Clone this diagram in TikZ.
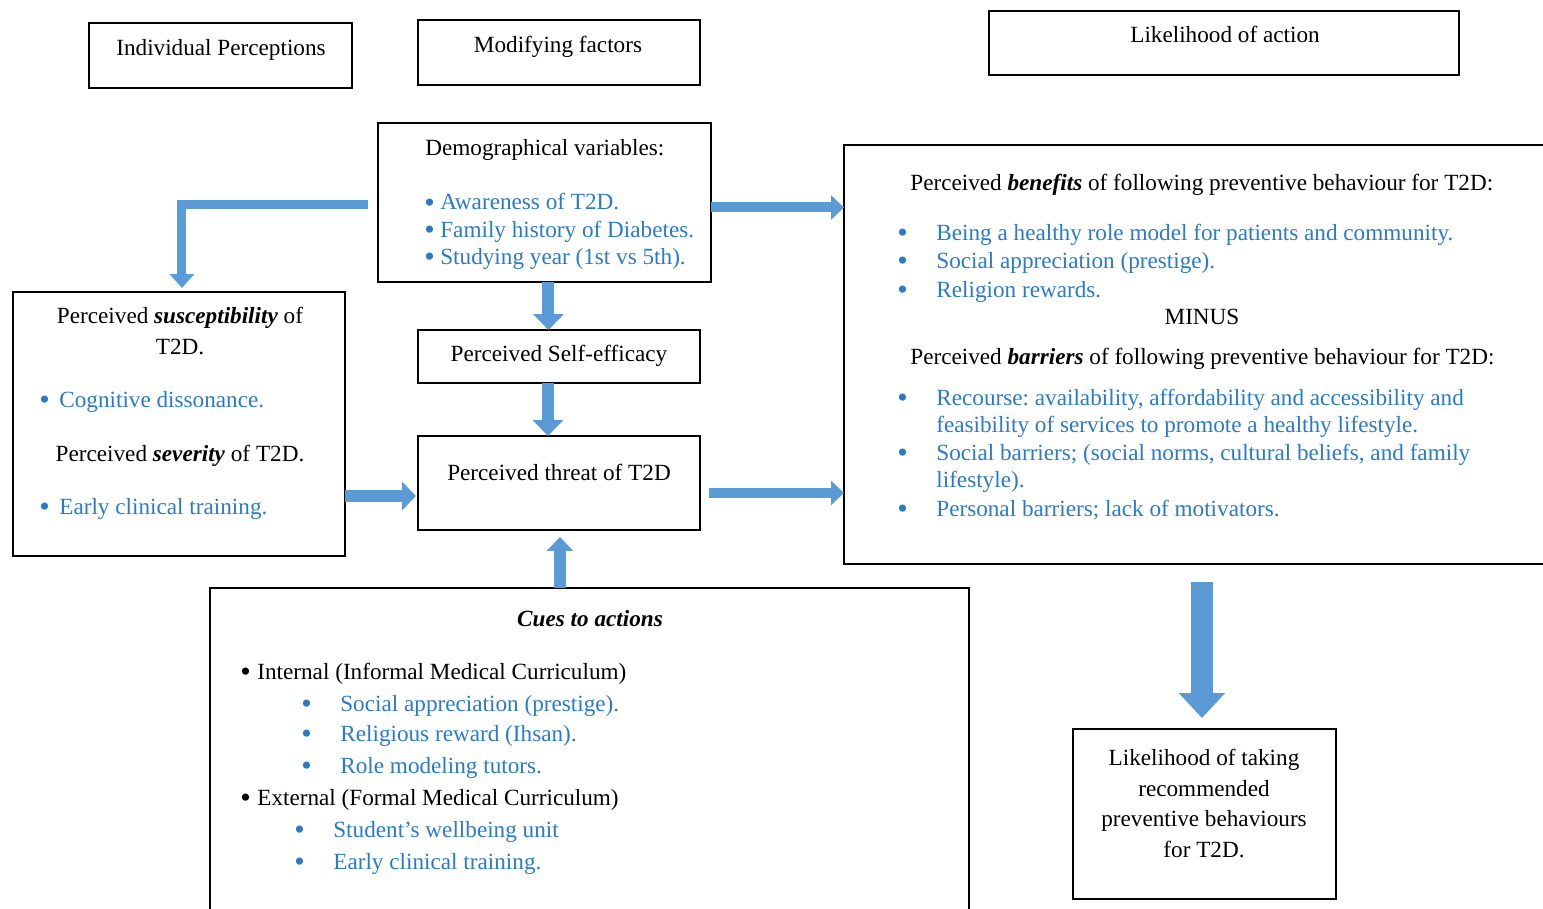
\documentclass[tikz,border=0pt]{standalone}
\usepackage{fontspec}
\setmainfont{Liberation Serif}
\usetikzlibrary{arrows.meta}
\frenchspacing
\definecolor{arrowblue}{HTML}{5B9BD5}
\definecolor{blu}{HTML}{2A7AC8}
% bullet item: name, bullet x, text x, baseline y, text
\newcommand\bitem[5]{%
  \node[txt,text=blu] (#1b) at (#2,#4) {\bigdot};
  \node[txt,text=blu] (#1) at (#3,#4) {#5};}
\newcommand\bigdot{\raisebox{-1.7pt}{\fontsize{17}{16}\selectfont •}}
\begin{document}
\begin{tikzpicture}[x=0.02cm,y=-0.02cm,
  box/.style={draw=black,line width=0.8pt,inner sep=0pt,outer sep=0pt,anchor=north west},
  txt/.style={font=\fontsize{13.2}{16}\selectfont,inner sep=0pt,anchor=base west},
  ctxt/.style={txt,anchor=base},
  barrow/.style n args={3}{draw=arrowblue,line width=#1,line join=miter,
    -{Triangle[width=#2,length=#3]}}]
\useasboundingbox (0,0) rectangle (1543,909);
\clip (0,0) rectangle (1543,909);

% boxes
\node[box,minimum width=5.26cm,minimum height=1.30cm] (ind) at (89,23) {};
\node[box,minimum width=5.64cm,minimum height=1.30cm] (mod) at (418,20) {};
\node[box,minimum width=9.40cm,minimum height=1.28cm] (lik) at (989,11) {};
\node[box,minimum width=6.66cm,minimum height=3.18cm] (demog) at (378,123) {};
\node[box,minimum width=14.32cm,minimum height=8.38cm] (ben) at (844,145) {};
\node[box,minimum width=6.64cm,minimum height=5.28cm] (susc) at (13,292) {};
\node[box,minimum width=5.64cm,minimum height=1.06cm] (self) at (418,330) {};
\node[box,minimum width=5.64cm,minimum height=1.88cm] (threat) at (418,436) {};
\node[box,minimum width=15.18cm,minimum height=6.84cm] (cues) at (210,588) {};
\node[box,minimum width=5.26cm,minimum height=3.40cm] (take) at (1073,729) {};

% headings
\node[ctxt] (tInd) at (221,56) {Individual Perceptions};
\node[ctxt] (tMod) at (558,53) {Modifying factors};
\node[ctxt] (tLik) at (1225,43) {Likelihood of action};

% demographical variables
\node[txt] (tDem) at (425,155) {Demographical variables:};
\bitem{d1}{424}{440}{210}{Awareness of T2D.}
\bitem{d2}{424}{440}{237}{Family history of Diabetes.}
\bitem{d3}{424}{440}{264}{Studying year (1st vs 5th).}

% benefits and barriers
\node[txt] (tBen) at (910,191) {Perceived \textbf{\textit{benefits}} of following preventive behaviour for T2D:};
\bitem{b1}{897}{936}{240}{Being a healthy role model for patients and community.}
\bitem{b2}{897}{936}{268}{Social appreciation (prestige).}
\bitem{b3}{897}{936}{297}{Religion rewards.}
\node[ctxt] (tMinus) at (1202,324) {MINUS};
\node[txt] (tBar) at (910,364) {Perceived \textbf{\textit{barriers}} of following preventive behaviour for T2D:};
\bitem{r1}{897}{936}{405}{Recourse: availability, affordability and accessibility and}
\node[txt,text=blu] (r1c) at (936,432) {feasibility of services to promote a healthy lifestyle.};
\bitem{r2}{897}{936}{460}{Social barriers; (social norms, cultural beliefs, and family}
\node[txt,text=blu] (r2c) at (936,487) {lifestyle).};
\bitem{r3}{897}{936}{516}{Personal barriers; lack of motivators.}

% susceptibility and severity
\node[ctxt] (tSus) at (180,323) {Perceived \textbf{\textit{susceptibility}} of};
\node[ctxt] (tSus2) at (180,354) {T2D.};
\bitem{s1}{39}{59}{407}{Cognitive dissonance.}
\node[ctxt] (tSev) at (180,461) {Perceived \textbf{\textit{severity}} of T2D.};
\bitem{s2}{39}{59}{514}{Early clinical training.}

% self-efficacy and threat
\node[ctxt] (tSelf) at (559,361) {Perceived Self-efficacy};
\node[ctxt] (tThr) at (559,480) {Perceived threat of T2D};

% cues to actions
\node[ctxt] (tCues) at (590,626) {\textbf{\textit{Cues to actions}}};
\node[txt] (c0b) at (240,679) {\bigdot};
\node[txt] (c0) at (257,679) {Internal (Informal Medical Curriculum)};
\bitem{c1}{301}{340}{711}{Social appreciation (prestige).}
\bitem{c2}{301}{340}{741}{Religious reward (Ihsan).}
\bitem{c3}{301}{340}{773}{Role modeling tutors.}
\node[txt] (c4b) at (240,805) {\bigdot};
\node[txt] (c4) at (257,805) {External (Formal Medical Curriculum)};
\bitem{c5}{294}{333}{837}{Student’s wellbeing unit}
\bitem{c6}{294}{333}{869}{Early clinical training.}

% likelihood of taking action
\node[ctxt] (k1) at (1204,765) {Likelihood of taking};
\node[ctxt] (k2) at (1204,796) {recommended};
\node[ctxt] (k3) at (1204,826) {preventive behaviours};
\node[ctxt] (k4) at (1204,857) {for T2D.};

% block arrows
\coordinate (eS) at ([shift={(-10,2)}]demog.west);
\coordinate (eT) at ([shift={(3,-4)}]susc.north);
\draw[barrow={0.18cm}{0.48cm}{0.28cm}] (eS) -| (eT);

\coordinate (dbS) at ([shift={(0,5)}]demog.east);
\draw[barrow={0.2cm}{0.48cm}{0.26cm}] (dbS) -- (dbS -| ben.west);

\coordinate (dsS) at ([shift={(4,0)}]demog.south);
\draw[barrow={0.24cm}{0.6cm}{0.32cm}] (dsS) -- (dsS |- self.north);

\coordinate (stS) at ([shift={(-11,0)}]self.south);
\draw[barrow={0.24cm}{0.6cm}{0.32cm}] (stS) -- (stS |- threat.north);

\coordinate (sutT) at ([shift={(-2,13)}]threat.west);
\draw[barrow={0.24cm}{0.56cm}{0.28cm}] (sutT -| susc.east) -- (sutT);

\coordinate (tbS) at ([shift={(9,10)}]threat.east);
\draw[barrow={0.2cm}{0.48cm}{0.26cm}] (tbS) -- (tbS -| ben.west);

\coordinate (ctT) at ([shift={(1,7)}]threat.south);
\draw[barrow={0.24cm}{0.52cm}{0.28cm}] (ctT |- cues.north) -- (ctT);

\coordinate (btS) at ([shift={(0,18)}]ben.south);
\coordinate (btT) at ([shift={(0,-11)}]take.north);
\draw[barrow={0.44cm}{0.9cm}{0.5cm}] (btS) -- (btS |- btT);
\end{tikzpicture}
\end{document}
